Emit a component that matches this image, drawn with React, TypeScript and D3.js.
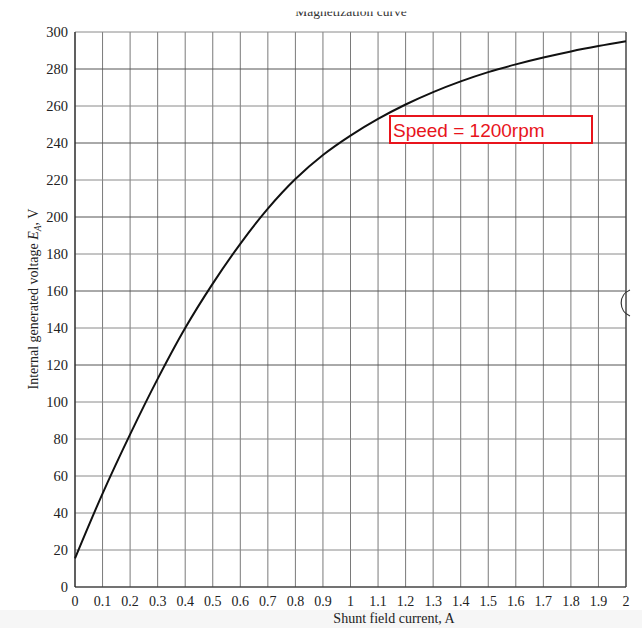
import React from "react";
import * as d3 from "d3";

const currents = [0, 0.1, 0.2, 0.3, 0.4, 0.5, 0.6, 0.7, 0.8, 0.9, 1.0, 1.1, 1.2, 1.3, 1.4, 1.5, 1.6, 1.7, 1.8, 1.9, 2.0];
const voltages = [15.5, 50.5, 82.5, 112.5, 140, 164, 185.5, 204.5, 220.5, 233.5, 244, 253, 260.8, 267.5, 273.3, 278.3, 282.5, 286.2, 289.5, 292.4, 295];
const xTicks = [0, 0.1, 0.2, 0.3, 0.4, 0.5, 0.6, 0.7, 0.8, 0.9, 1, 1.1, 1.2, 1.3, 1.4, 1.5, 1.6, 1.7, 1.8, 1.9, 2];
const yTicks = [0, 20, 40, 60, 80, 100, 120, 140, 160, 180, 200, 220, 240, 260, 280, 300];
const titleText = "Magnetization curve";
const legendText = "Speed = 1200rpm";

export default function App() {
  const W = 642, H = 628;
  const left = 75, right = 626, top = 32, bottom = 587;
  const x = d3.scaleLinear().domain([0, 2]).range([left, right]);
  const y = d3.scaleLinear().domain([0, 300]).range([bottom, top]);
  const pts = currents.map((c, i) => [c, voltages[i]] as [number, number]);
  const line = d3.line<[number, number]>().x(d => x(d[0])).y(d => y(d[1])).curve(d3.curveCatmullRom.alpha(0.5));
  const serif = "'Liberation Serif', 'DejaVu Serif', serif";
  return (
    <svg width={W} height={H} style={{ position: "absolute", left: 0, top: 0, background: "#fff" }}>
      <defs>
        <clipPath id="titleClip"><rect x={0} y={11.5} width={W} height={20} /></clipPath>
      </defs>
      <rect x={0} y={610} width={W} height={18} fill="#f6f6f6" />
      <text x={351} y={16} textAnchor="middle" fontFamily={serif} fontSize={13.5} fill="#333" clipPath="url(#titleClip)">{titleText}</text>
      {xTicks.map((t, i) => (
        <line key={"vx" + i} x1={x(t)} x2={x(t)} y1={top} y2={bottom} stroke="#7a7a7a" strokeWidth={1} />
      ))}
      {yTicks.map((t, i) => (
        <line key={"hy" + i} x1={left} x2={right} y1={y(t)} y2={y(t)} stroke={t % 40 === 0 && t > 100 ? "#555" : "#8a8a8a"} strokeWidth={1} />
      ))}
      <line x1={left} x2={left} y1={top} y2={bottom} stroke="#222" strokeWidth={1.2} />
      <line x1={left} x2={right} y1={bottom} y2={bottom} stroke="#222" strokeWidth={1.2} />
      <line x1={right} x2={right} y1={top} y2={bottom} stroke="#444" strokeWidth={1.2} />
      <path d={line(pts) || ""} fill="none" stroke="#111" strokeWidth={2} />
      {yTicks.map((t, i) => (
        <text key={"yl" + i} x={68} y={y(t) + 5} textAnchor="end" fontFamily={serif} fontSize={14.5} fill="#222">{t}</text>
      ))}
      {xTicks.map((t, i) => (
        <text key={"xl" + i} x={x(t)} y={606} textAnchor="middle" fontFamily={serif} fontSize={14} fill="#222">{String(t)}</text>
      ))}
      <text x={394} y={623} textAnchor="middle" fontFamily={serif} fontSize={14} fill="#222">Shunt field current, A</text>
      <text transform={`translate(38, ${299}) rotate(-90)`} textAnchor="middle" fontFamily={serif} fontSize={14} fill="#222">
        Internal generated voltage <tspan fontStyle="italic">E</tspan><tspan fontStyle="italic" fontSize={9.5} dy={3}>A</tspan><tspan dy={-3}>, V</tspan>
      </text>
      <rect x={390} y={116} width={202} height={27} fill="#fff" stroke="#e8141c" strokeWidth={2} />
      <text x={393} y={137} fontFamily="'Liberation Sans', Arial, sans-serif" fontSize={19} fill="#e8141c">{legendText}</text>
      <path d="M 630 290 A 14 14 0 0 0 630 316" fill="none" stroke="#333" strokeWidth={1.2} />
    </svg>
  );
}
